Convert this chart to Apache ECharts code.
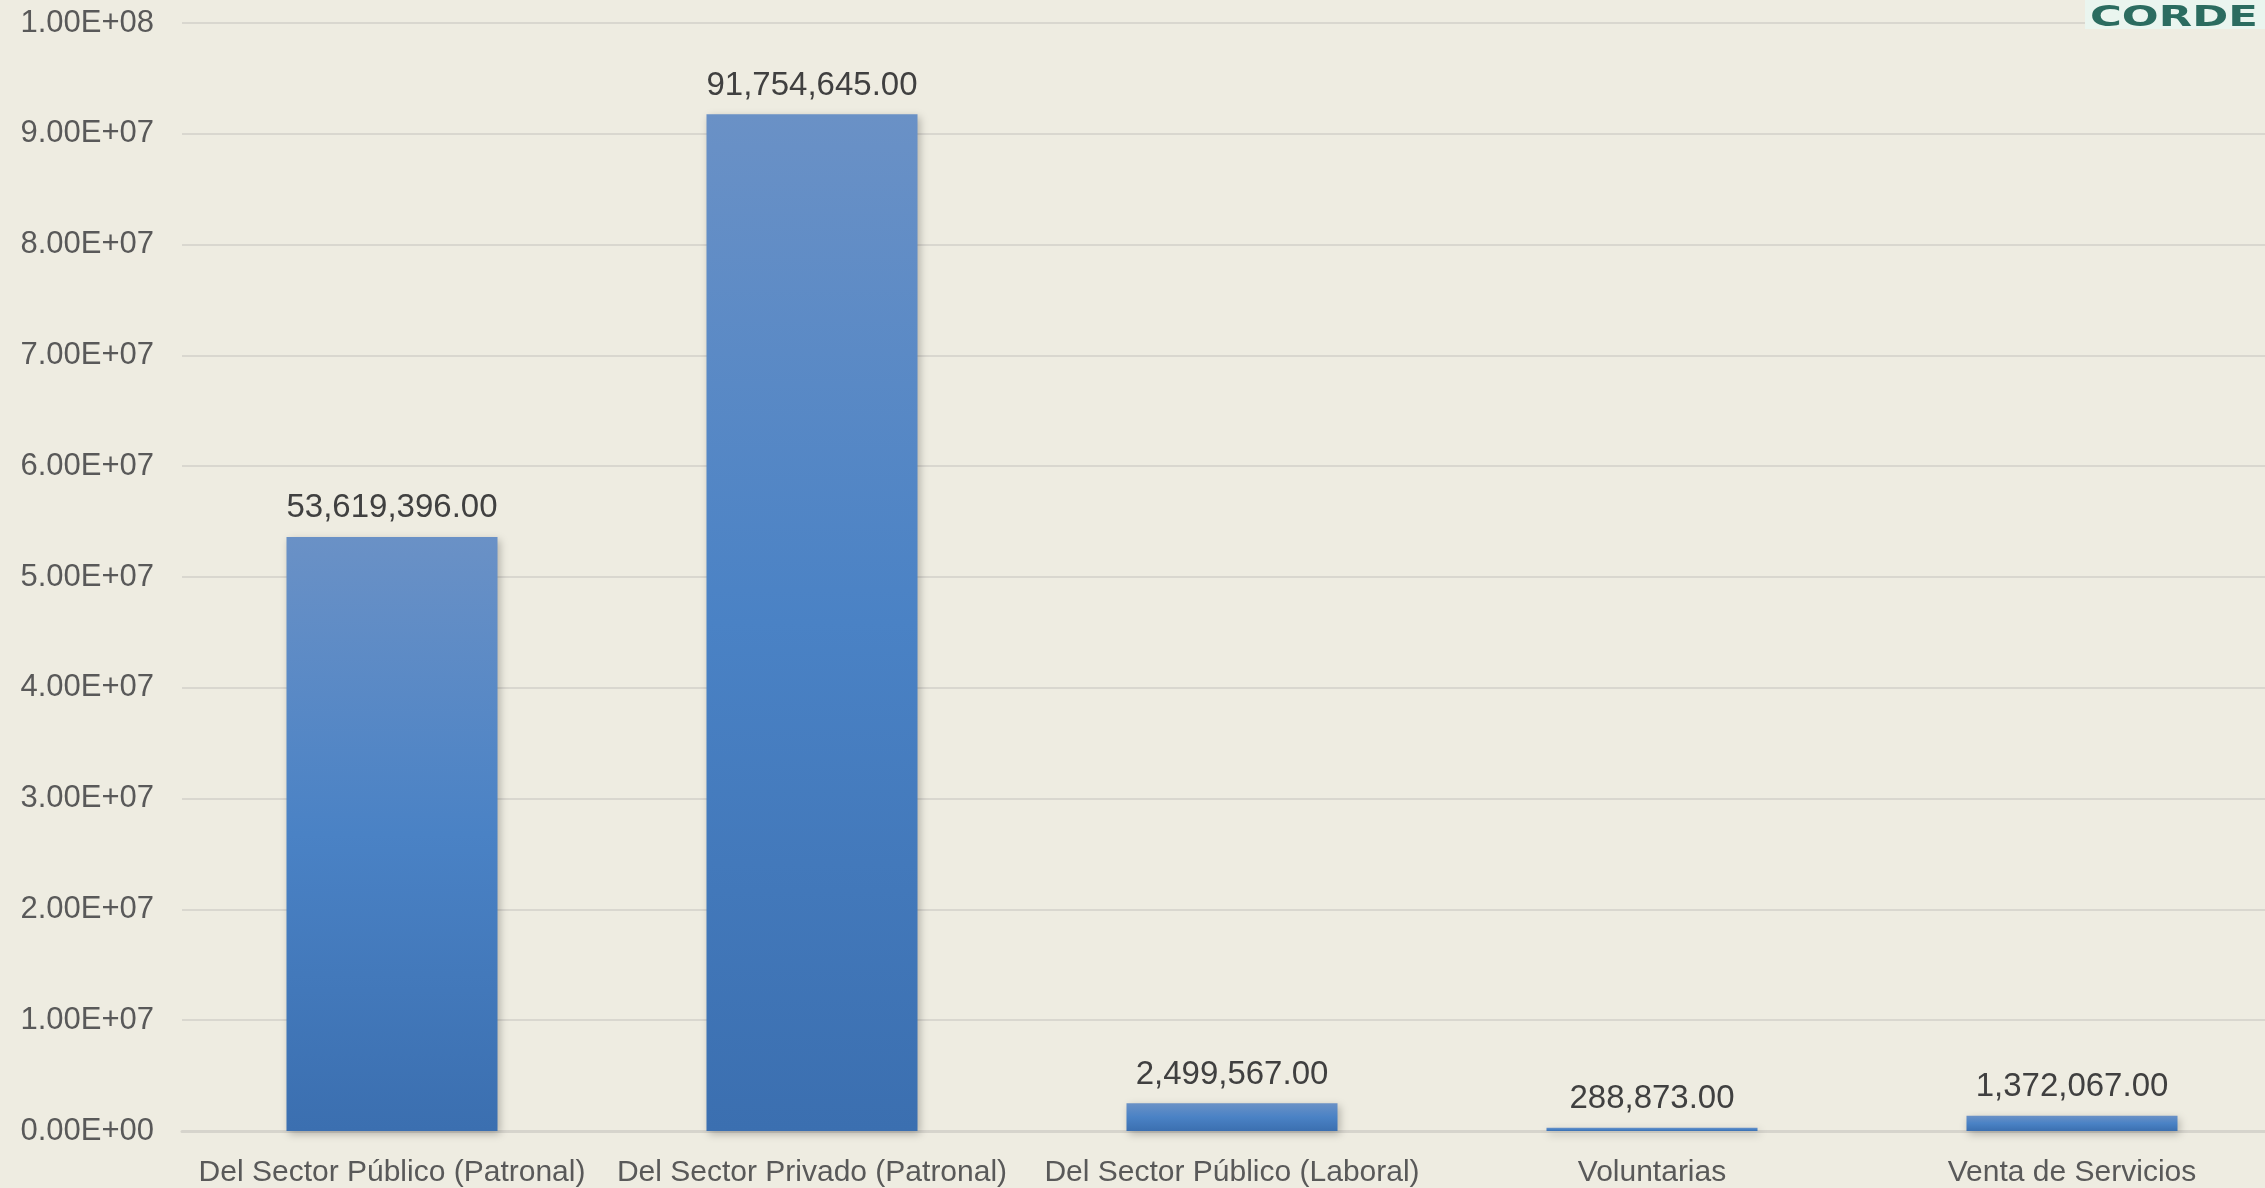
<!DOCTYPE html>
<html><head><meta charset="utf-8">
<script src="https://cdn.jsdelivr.net/npm/echarts@6/dist/echarts.min.js"></script>
<style>html,body{margin:0;padding:0;background:#eeece1;overflow:hidden;width:2265px;height:1188px;}#c{width:2300px;height:1188px;}</style>
</head><body><div id="c"></div>
<script>
const categories = ["Del Sector Público (Patronal)", "Del Sector Privado (Patronal)", "Del Sector Público (Laboral)", "Voluntarias", "Venta de Servicios"];
const values = [53619396, 91754645, 2499567, 288873, 1372067];
const yMin = 0, yMax = 100000000, yInterval = 10000000;

function sci(v){
  if (v === 0) return "0.00E+00";
  const e = Math.floor(Math.log10(v));
  const m = v / Math.pow(10, e);
  return m.toFixed(2) + "E+" + (e < 10 ? "0" + e : e);
}
function fmt(v){
  return v.toLocaleString("en-US", {minimumFractionDigits: 2, maximumFractionDigits: 2});
}

const chart = echarts.init(document.getElementById('c'));
chart.setOption({
  backgroundColor: '#eeece1',
  animation: false,
  textStyle: {fontFamily: 'Liberation Sans, Arial, sans-serif'},
  grid: {left: 182, right: 18, top: 23, bottom: 56, containLabel: false},
  xAxis: {
    type: 'category', data: categories,
    axisLine: {lineStyle: {color: '#d6d4cc', width: 3}},
    axisTick: {show: false},
    axisLabel: {color: '#595959', fontSize: 30, margin: 27, interval: 0}
  },
  yAxis: {
    type: 'value', min: yMin, max: yMax, interval: yInterval,
    axisLine: {show: false}, axisTick: {show: false},
    splitLine: {lineStyle: {color: '#d9d7cf', width: 2}},
    axisLabel: {color: '#595959', fontSize: 31, margin: 28, formatter: sci}
  },
  series: [{
    type: 'bar', data: values, barWidth: 211,
    itemStyle: {
      color: new echarts.graphic.LinearGradient(0, 0, 0, 1, [
        {offset: 0, color: '#6a91c6'},
        {offset: 0.5, color: '#4a82c5'},
        {offset: 1, color: '#3b6fb0'}
      ]),
      shadowColor: 'rgba(0,0,0,0.25)', shadowBlur: 8, shadowOffsetX: 2, shadowOffsetY: 3
    },
    label: {show: true, position: 'top', distance: 12, color: '#404040', fontSize: 33, formatter: p => fmt(p.value)}
  }],
  graphic: [
    {type: 'rect', x: 2085, y: 0, shape: {width: 215, height: 29}, style: {fill: '#eaf5ef'}, z: 10},
    {type: 'text', x: 2090, y: 5, scaleX: 1.55, z: 11, style: {text: 'CORDE', fill: '#2b6c60', font: 'bold 28px "DejaVu Sans", sans-serif'}}
  ]
});
</script></body></html>
